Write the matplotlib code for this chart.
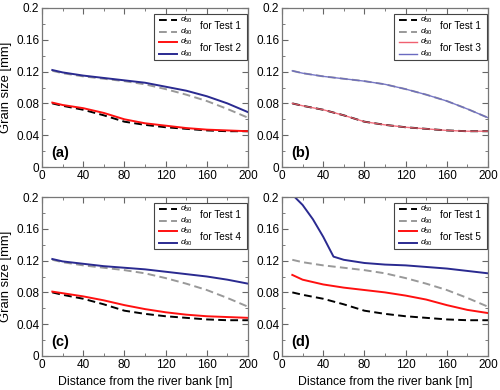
import matplotlib
matplotlib.use('Agg')
import matplotlib.pyplot as plt
from matplotlib.patches import Rectangle
from matplotlib.ticker import MultipleLocator, FormatStrFormatter

plt.rcParams['font.family'] = ['Liberation Sans', 'DejaVu Sans']
plt.rcParams['mathtext.fontset'] = 'custom'
plt.rcParams['mathtext.it'] = 'Liberation Sans:italic'
plt.rcParams['mathtext.rm'] = 'Liberation Sans'

# distance from the river bank [m]
dist = [10, 20, 40, 60, 80, 100, 120, 140, 160, 180, 200]

# Test 1 (reference run)
t1_d50 = [0.080, 0.077, 0.072, 0.065, 0.057, 0.053, 0.050, 0.048, 0.046, 0.045, 0.045]
t1_d90 = [0.121, 0.118, 0.114, 0.111, 0.108, 0.104, 0.098, 0.091, 0.083, 0.073, 0.062]

t2_d50 = [0.081, 0.078, 0.074, 0.068, 0.060, 0.055, 0.052, 0.049, 0.047, 0.046, 0.045]
t2_d90 = [0.122, 0.119, 0.115, 0.112, 0.109, 0.106, 0.101, 0.096, 0.089, 0.080, 0.069]

t3_d50 = [0.080, 0.077, 0.072, 0.065, 0.057, 0.053, 0.050, 0.048, 0.046, 0.045, 0.045]
t3_d90 = [0.121, 0.118, 0.114, 0.111, 0.108, 0.104, 0.098, 0.091, 0.083, 0.073, 0.062]

t4_d50 = [0.081, 0.079, 0.075, 0.070, 0.064, 0.059, 0.055, 0.052, 0.050, 0.049, 0.048]
t4_d90 = [0.122, 0.119, 0.116, 0.113, 0.111, 0.109, 0.106, 0.103, 0.100, 0.096, 0.091]

t5_x = [10, 20, 30, 40, 50, 60, 80, 100, 120, 140, 160, 180, 200]
t5_d50 = [0.102, 0.096, 0.093, 0.090, 0.088, 0.086, 0.083, 0.080, 0.076, 0.071, 0.064, 0.058, 0.054]
t5_d90 = [0.203, 0.190, 0.172, 0.150, 0.125, 0.121, 0.117, 0.115, 0.114, 0.112, 0.110, 0.107, 0.104]

panels = [
    ('(a)', 'Test 2', dist, t2_d50, t2_d90),
    ('(b)', 'Test 3', dist, t3_d50, t3_d90),
    ('(c)', 'Test 4', dist, t4_d50, t4_d90),
    ('(d)', 'Test 5', t5_x, t5_d50, t5_d90),
]

RED = '#ff1010'
BLUE = '#2a2a90'
GRAY = '#999999'
DASH = (4, 2.2)

fig = plt.figure(figsize=(5.0, 3.9), dpi=100)
W, H = 500.0, 390.0
boxes = [(42, 8), (282, 8), (42, 197), (282, 197)]

for i, (tag, name, xs, d50, d90) in enumerate(panels):
    left, top = boxes[i]
    ax = fig.add_axes([left / W, 1 - (top + 159) / H, 206 / W, 159 / H])

    ax.plot(dist, t1_d90, color=GRAY, lw=1.4, dashes=DASH)
    ax.plot(dist, t1_d50, color='black', lw=1.4, dashes=DASH)
    if tag == '(b)':
        red, blue, lw, al = '#f06070', '#6a6ac0', 1.0, 0.9
    else:
        red, blue, lw, al = RED, BLUE, 1.4, 1.0
    ax.plot(xs, d50, color=red, lw=lw, alpha=al)
    ax.plot(xs, d90, color=blue, lw=lw, alpha=al)

    ax.set_xlim(0, 200)
    ax.set_ylim(0, 0.2)
    ax.xaxis.set_major_locator(MultipleLocator(40))
    ax.xaxis.set_minor_locator(MultipleLocator(20))
    ax.yaxis.set_major_locator(MultipleLocator(0.04))
    ax.yaxis.set_minor_locator(MultipleLocator(0.02))
    ax.yaxis.set_major_formatter(FormatStrFormatter('%g'))
    ax.tick_params(which='both', direction='in', top=True, right=True,
                   labelsize=8.5, color='#666666', pad=2)
    ax.tick_params(which='major', length=4)
    ax.tick_params(which='minor', length=2)
    for s in ax.spines.values():
        s.set_color('#777777')
        s.set_linewidth(0.9)

    if i % 2 == 0:
        ax.set_ylabel('Grain size [mm]', fontsize=9.4)
        ax.yaxis.set_label_coords(-0.145, 0.5)
    if i >= 2:
        ax.set_xlabel('Distance from the river bank [m]', fontsize=8.8, labelpad=4)

    ax.text(0.045, 0.09, tag, transform=ax.transAxes, fontsize=10.5,
            fontweight='bold', va='center', ha='left')

    # legend drawn by hand, two grouped entries
    ax.add_patch(Rectangle((0.545, 0.675), 0.45, 0.29, transform=ax.transAxes,
                           facecolor='white', edgecolor='#444444', lw=0.8, zorder=5))
    rows = [(0.927, 'black', True, 1.4, '$d_{50}$'),
            (0.852, GRAY, True, 1.4, '$d_{90}$'),
            (0.787, red, False, lw, '$d_{50}$'),
            (0.713, blue, False, lw, '$d_{90}$')]
    for y, c, dashed, w, lab in rows:
        ln, = ax.plot([0.57, 0.655], [y, y], color=c, lw=w,
                      transform=ax.transAxes, zorder=6, clip_on=False)
        if dashed:
            ln.set_dashes(DASH)
        ax.text(0.672, y, lab, transform=ax.transAxes, fontsize=6,
                va='center', ha='left', zorder=7)
    ax.text(0.765, 0.888, 'for Test 1', transform=ax.transAxes, fontsize=7.2,
            va='center', ha='left', zorder=7)
    ax.text(0.765, 0.75, 'for ' + name, transform=ax.transAxes, fontsize=7.2,
            va='center', ha='left', zorder=7)

fig.savefig('out.png', dpi=100)
